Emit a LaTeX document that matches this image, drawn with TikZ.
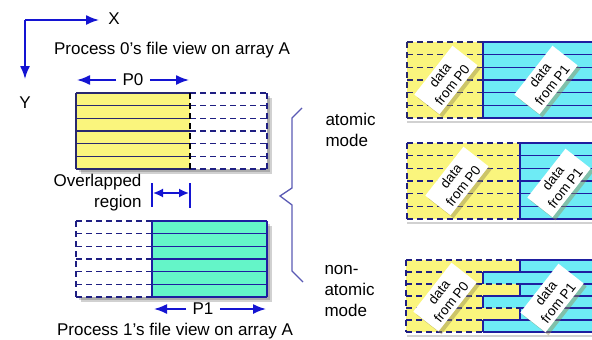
\documentclass[tikz,border=0pt]{standalone}
\usepackage{fontspec}
\setmainfont{Liberation Sans}
\usepackage{tikz}
\usetikzlibrary{arrows.meta}
\usetikzlibrary{shadows}

\tikzset{
  bluearrow/.style={line width=1.7pt, color=r20g20b210, -{Latex[length=13pt,width=10pt]}},
  bluetwin/.style={line width=1.7pt, color=r20g20b210, {Latex[length=10pt,width=9pt]}-{Latex[length=10pt,width=9pt]}},
  bluebar/.style={line width=1.2pt, color=r20g20b210},
  solidrow/.style={line width=1.1pt, color=r40g40b110},
  bluerow/.style={line width=1.1pt, color=r30g30b160},
  dashrow/.style={line width=1.1pt, color=r30g30b130, dash pattern=on 6pt off 4pt},
  boxshadow/.style={fill=black, opacity=0.18},
  databox/.style={fill=white, rotate=52, minimum width=62pt, minimum height=32pt, inner sep=1pt,
    align=center, font=\fontsize{13.5}{15.5}\selectfont,
    drop shadow={shadow xshift=3pt, shadow yshift=-3pt, fill=r150g140b80, opacity=0.45}}
}

\begin{document}
\begin{tikzpicture}[x=1pt, y=-1pt, font=\fontsize{17}{21}\selectfont]
  \useasboundingbox (0,0) rectangle (592,340);
  \clip (0,0) rectangle (592,340);

  % Changing colors
  \definecolor{r20g20b210}{RGB}{20,20,210}%
  \definecolor{r40g40b110}{RGB}{40,40,110}%
  \definecolor{r30g30b160}{RGB}{30,30,160}%
  \definecolor{r30g30b130}{RGB}{30,30,130}%
  \definecolor{r90g90b180}{RGB}{90,90,180}%
  \definecolor{r250g245b125}{RGB}{250,245,125}%
  \definecolor{r100g245b200}{RGB}{100,245,200}%
  \definecolor{r110g235b245}{RGB}{110,235,245}%
  \definecolor{r150g140b80}{RGB}{150,140,80}%

  % Drawing axes X Y
  \coordinate (origin) at (25,20);
  \coordinate (xtip) at (99,20);
  \coordinate (ytip) at (25,79);
  \node (xlab) at (114,19) {X};
  \node (ylab) at (25,103) {Y};
  \draw [bluearrow] (origin) -- (xtip);
  \draw [bluearrow] (origin) -- (ytip);

  % Process 0 view
  \node (title0) at (172,50) {Process 0's file view on array A};
  \node (p0) at (133,80) {P0};
  \coordinate (p0left) at (77,80);
  \coordinate (p0right) at (189,80);
  \draw [bluearrow, shorten <=3pt] (p0.west) -- (p0left);
  \draw [bluearrow, shorten <=3pt] (p0.east) -- (p0right);

  \fill [boxshadow] (81,98) rectangle (272,174);
  \fill [boxshadow] (79,96) rectangle (270,172);
  \fill [white] (76,93) rectangle (267,169);
  \fill [r250g245b125] (76,93) rectangle (190,169);
  \foreach \k in {0,...,6} {
    \draw [solidrow] (76,{93+12.667*\k}) -- (190,{93+12.667*\k});
    \draw [dashrow] (190,{93+12.667*\k}) -- (267,{93+12.667*\k});
  }
  \draw [solidrow] (76,93) -- (76,169);
  \draw [dashrow, color=black] (190,93) -- (190,169);
  \draw [dashrow] (267,93) -- (267,169);

  % Marking overlapped region
  \node [align=right, anchor=east] (overlap) at (145,193) {Overlapped\\region};
  \coordinate (ovtopA) at (152,183);
  \coordinate (ovbotA) at (152,207);
  \coordinate (ovtopB) at (190,183);
  \coordinate (ovbotB) at (190,208);
  \coordinate (ovarrA) at (153,193);
  \coordinate (ovarrB) at (189,193);
  \draw [bluebar] (ovtopA) -- (ovbotA);
  \draw [bluebar] (ovtopB) -- (ovbotB);
  \draw [bluetwin] (ovarrA) -- (ovarrB);

  % Process 1 view
  \fill [boxshadow] (81,226) rectangle (272,302);
  \fill [boxshadow] (79,224) rectangle (270,300);
  \fill [white] (76,221) rectangle (267,297);
  \fill [r100g245b200] (152,221) rectangle (267,297);
  \foreach \k in {0,...,6} {
    \draw [dashrow] (76,{221+12.667*\k}) -- (152,{221+12.667*\k});
    \draw [bluerow] (152,{221+12.667*\k}) -- (267,{221+12.667*\k});
  }
  \draw [dashrow] (76,221) -- (76,297);
  \draw [bluerow] (152,221) -- (152,297);
  \draw [bluerow] (267,221) -- (267,297);

  \node (p1) at (203,309) {P1};
  \coordinate (p1left) at (154,309);
  \coordinate (p1right) at (266,309);
  \draw [bluearrow, shorten <=3pt] (p1.west) -- (p1left);
  \draw [bluearrow, shorten <=3pt] (p1.east) -- (p1right);
  \node (title1) at (175,331) {Process 1's file view on array A};

  % Drawing brace
  \draw [line width=1.3pt, color=r90g90b180, line join=miter]
    (302,108) -- (292,118) -- (292,188) -- (280,196) -- (292,205) -- (292,271) -- (303,282);
  \node [align=left, anchor=west] (atomic) at (322,130) {atomic\\mode};
  \node [align=left, anchor=west] (nonatomic) at (321,291) {non-\\atomic\\mode};

  % Atomic mode, P0 wins the overlap
  \fill [boxshadow] (407,121) rectangle (600,123);
  \fill [r250g245b125] (407,42) rectangle (483,118);
  \fill [r110g235b245] (483,42) rectangle (600,118);
  \foreach \k in {0,...,6} {
    \draw [dashrow, color=r40g40b110] (407,{42+12.667*\k}) -- (483,{42+12.667*\k});
    \draw [bluerow] (483,{42+12.667*\k}) -- (600,{42+12.667*\k});
  }
  \draw [dashrow, color=r40g40b110] (407,42) -- (407,118);
  \draw [bluerow] (483,42) -- (483,118);
  \node [databox] (dataA0) at (446,80) {data\\from P0};
  \node [databox] (dataA1) at (546,80) {data\\from P1};

  % Atomic mode, P1 wins the overlap
  \fill [boxshadow] (407,222) rectangle (600,224);
  \fill [r250g245b125] (407,143) rectangle (520,219);
  \fill [r110g235b245] (520,143) rectangle (600,219);
  \foreach \k in {0,...,6} {
    \draw [dashrow] (407,{143+12.667*\k}) -- (520,{143+12.667*\k});
    \draw [bluerow] (520,{143+12.667*\k}) -- (600,{143+12.667*\k});
  }
  \draw [dashrow] (407,143) -- (407,219);
  \draw [bluerow] (520,143) -- (520,219);
  \node [databox] (dataB0) at (457,181) {data\\from P0};
  \node [databox] (dataB1) at (559,183) {data\\from P1};

  % Non-atomic mode, rows interleaved
  \fill [boxshadow] (407,335) rectangle (600,337);
  \foreach \k/\xs in {0/520,1/483,2/520,3/483,4/520,5/483} {
    \fill [r110g235b245] (\xs,{260+12*\k}) rectangle (600,{272+12*\k});
    \fill [r250g245b125] (406,{260+12*\k}) rectangle (\xs,{272+12*\k});
  }
  \foreach \k/\xs in {0/520,1/483,2/520,3/483,4/520,5/483} {
    \draw [bluerow] (\xs,{260+12*\k}) -- (600,{260+12*\k});
    \draw [bluerow] (\xs,{260+12*\k}) -- (\xs,{272+12*\k});
    \draw [dashrow] (406,{260+12*\k}) -- (\xs,{260+12*\k});
  }
  \draw [dashrow] (406,332) -- (483,332);
  \draw [bluerow] (483,332) -- (600,332);
  \draw [dashrow] (406,260) -- (406,332);
  \node [databox] (dataC0) at (445,297) {data\\from P0};
  \node [databox] (dataC1) at (552,298) {data\\from P1};
\end{tikzpicture}
\end{document}
